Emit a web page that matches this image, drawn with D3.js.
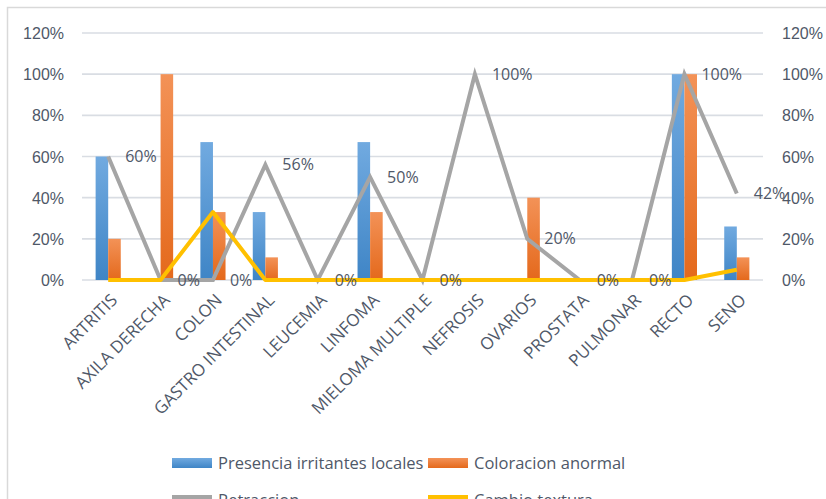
<!DOCTYPE html>
<html>
<head>
<meta charset="utf-8">
<script src="https://cdn.jsdelivr.net/npm/d3@7/dist/d3.min.js"></script>
<style>
  html, body { margin: 0; padding: 0; background: #fff; }
  svg { display: block; font-family: "Open Sans", "Noto Sans", sans-serif; }
</style>
</head>
<body>
<svg id="chart" width="826" height="499"></svg>
<script>
// Categories along the x axis
const categories = ["ARTRITIS", "AXILA DERECHA", "COLON", "GASTRO INTESTINAL", "LEUCEMIA",
  "LINFOMA", "MIELOMA MULTIPLE", "NEFROSIS", "OVARIOS", "PROSTATA", "PULMONAR", "RECTO", "SENO"];

// Bar series (share of cases, 0..1)
const presenciaIrritantes = [0.60, 0, 0.67, 0.33, 0, 0.67, 0, 0, 0, 0, 0, 1.00, 0.26];
const coloracionAnormal   = [0.20, 1.00, 0.33, 0.11, 0, 0.33, 0, 0, 0.40, 0, 0, 1.00, 0.11];

// Line series (secondary axis, same 0..120% range)
const retraccion     = [0.60, 0, 0, 0.56, 0, 0.50, 0, 1.00, 0.20, 0, 0, 1.00, 0.42];
const cambioTextura  = [0, 0, 0.33, 0, 0, 0, 0, 0, 0, 0, 0, 0, 0.05];

// Axis ticks
const yTicks = [0, 0.2, 0.4, 0.6, 0.8, 1.0, 1.2];

const seriesNames = ["Presencia irritantes locales", "Coloracion anormal", "Retraccion", "Cambio textura"];
const colors = { blue: "#5b9bd5", orange: "#ed7d31", gray: "#a5a5a5", yellow: "#ffc000" };
const textColor = "#4f5868";

const svg = d3.select("#chart");
const W = 826, H = 499;
const plot = { left: 82, right: 763, top: 33, bottom: 280 };

svg.append("rect").attr("width", W).attr("height", H).attr("fill", "#fff");
// chart frame
svg.append("rect").attr("x", 7.5).attr("y", 7.5).attr("width", 840).attr("height", 520)
  .attr("fill", "none").attr("stroke", "#d9d9d9").attr("stroke-width", 1.5);

const defs = svg.append("defs");
function grad(id, top, bottom) {
  const g = defs.append("linearGradient").attr("id", id)
    .attr("x1", 0).attr("y1", 0).attr("x2", 0).attr("y2", 1);
  g.append("stop").attr("offset", "0%").attr("stop-color", top);
  g.append("stop").attr("offset", "100%").attr("stop-color", bottom);
}
grad("gBlue", "#71aae0", "#3f85c6");
grad("gOrange", "#f39257", "#e4691c");

const x = d3.scaleBand().domain(categories).range([plot.left, plot.right]).padding(0);
const groupW = x.bandwidth() * 0.48;
const x1 = d3.scaleBand().domain([0, 1]).range([0, groupW]).padding(0);
const y = d3.scaleLinear().domain([0, 1.2]).range([plot.bottom, plot.top]);

// gridlines
svg.append("g").selectAll("line").data(yTicks).join("line")
  .attr("x1", plot.left).attr("x2", plot.right)
  .attr("y1", d => y(d)).attr("y2", d => y(d))
  .attr("stroke", "#d9dde3").attr("stroke-width", 1.6);

// left axis
const fmt = d3.format(".0%");
const leftAxis = svg.append("g").attr("transform", `translate(${plot.left - 18},0)`)
  .call(d3.axisLeft(y).tickValues(yTicks).tickFormat(fmt).tickSize(0).tickPadding(0));
leftAxis.select(".domain").remove();
leftAxis.selectAll("text").attr("fill", textColor).style("font-size", "16px").attr("dy", "0.35em");

// right axis
const rightAxis = svg.append("g").attr("transform", `translate(${plot.right + 19},0)`)
  .call(d3.axisRight(y).tickValues(yTicks).tickFormat(fmt).tickSize(0).tickPadding(0));
rightAxis.select(".domain").remove();
rightAxis.selectAll("text").attr("fill", textColor).style("font-size", "16px").attr("dy", "0.35em");

// bars
const barSeries = [
  { values: presenciaIrritantes, fill: "url(#gBlue)" },
  { values: coloracionAnormal, fill: "url(#gOrange)" }
];
barSeries.forEach((s, si) => {
  svg.append("g").selectAll("rect").data(categories.map((c, i) => ({ c, v: s.values[i] })))
    .join("rect")
    .attr("x", d => x(d.c) + (x.bandwidth() - groupW) / 2 + x1(si))
    .attr("width", x1.bandwidth())
    .attr("y", d => y(d.v))
    .attr("height", d => y(0) - y(d.v))
    .attr("fill", s.fill);
});

const cx = c => x(c) + x.bandwidth() / 2;
const line = vals => d3.line().x((d, i) => cx(categories[i])).y(d => y(d))(vals);

svg.append("path").attr("d", line(retraccion)).attr("fill", "none")
  .attr("stroke", colors.gray).attr("stroke-width", 4).attr("stroke-linejoin", "miter");
svg.append("path").attr("d", line(cambioTextura)).attr("fill", "none")
  .attr("stroke", colors.yellow).attr("stroke-width", 4).attr("stroke-linejoin", "round");

// data labels for Retraccion
svg.append("g").selectAll("text").data(retraccion).join("text")
  .attr("x", (d, i) => cx(categories[i]) + 17)
  .attr("y", d => y(d))
  .attr("dy", "0.35em")
  .attr("fill", textColor).style("font-size", "16px")
  .text(d => fmt(d));

// category labels
svg.append("g").selectAll("text").data(categories).join("text")
  .attr("transform", c => `translate(${cx(c) + 6},${plot.bottom + 17}) rotate(-45)`)
  .attr("text-anchor", "end")
  .attr("dy", "0.35em")
  .attr("fill", textColor).style("font-size", "17px")
  .text(c => c);

// legend
const legend = svg.append("g");
const legendItems = [
  { name: seriesNames[0], type: "rect", fill: "url(#gBlue)", x: 172, y: 463 },
  { name: seriesNames[1], type: "rect", fill: "url(#gOrange)", x: 428, y: 463 },
  { name: seriesNames[2], type: "line", stroke: colors.gray, x: 172, y: 500 },
  { name: seriesNames[3], type: "line", stroke: colors.yellow, x: 428, y: 500 }
];
legendItems.forEach(it => {
  if (it.type === "rect") {
    legend.append("rect").attr("x", it.x).attr("y", it.y - 5).attr("width", 40).attr("height", 10).attr("fill", it.fill);
  } else {
    legend.append("line").attr("x1", it.x).attr("x2", it.x + 40).attr("y1", it.y - 3).attr("y2", it.y - 3)
      .attr("stroke", it.stroke).attr("stroke-width", 4);
  }
  legend.append("text").attr("x", it.x + 46).attr("y", it.y).attr("dy", "0.35em")
    .attr("fill", textColor).style("font-size", "16.5px").text(it.name);
});
</script>
</body>
</html>
